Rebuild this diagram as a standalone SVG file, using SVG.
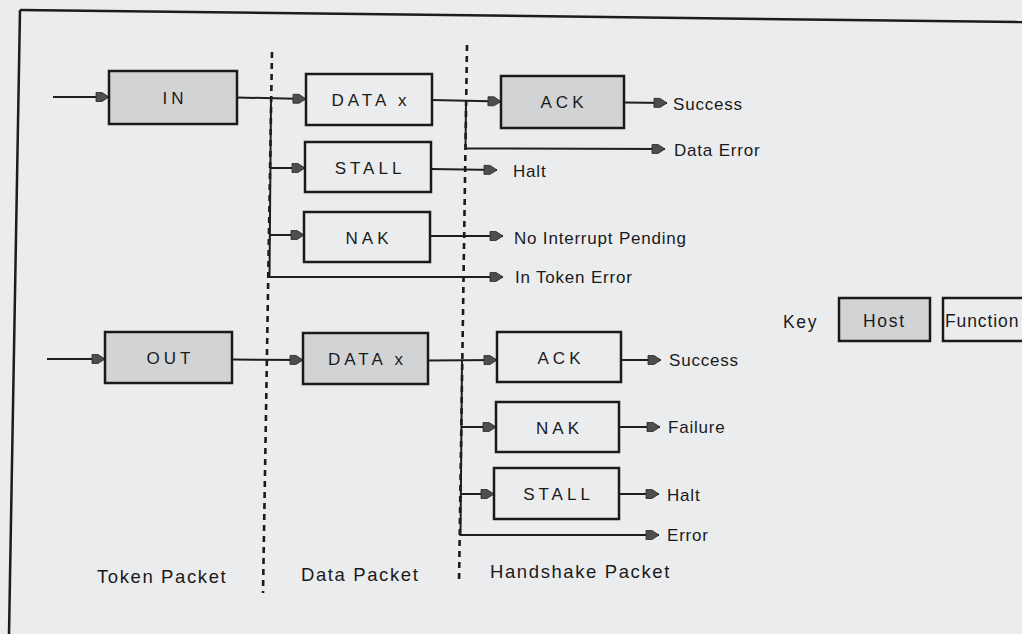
<svg xmlns="http://www.w3.org/2000/svg" width="1022" height="634" viewBox="0 0 1022 634">
  <style>
    .bg { fill: #ebecee; }
    .frame { stroke: #1c1c1c; stroke-width: 2.5; fill: none; }
    .box { fill: none; stroke: #1a1a1a; stroke-width: 2.5; }
    .host { fill: #d2d3d4; stroke: #1a1a1a; stroke-width: 2.5; }
    .blabel { font-family: "Liberation Sans", Arial, sans-serif; font-size: 17px; letter-spacing: 4px; fill: #1a1a1a; text-anchor: middle; }
    .out { font-family: "Liberation Sans", Arial, sans-serif; font-size: 17px; letter-spacing: 0.8px; fill: #1a1a1a; }
    .phase { font-family: "Liberation Sans", Arial, sans-serif; font-size: 18.5px; letter-spacing: 1.6px; fill: #1a1a1a; }
    .keyt { font-family: "Liberation Sans", Arial, sans-serif; font-size: 17.5px; letter-spacing: 1.7px; fill: #1a1a1a; }
    .wire { fill: none; stroke: #1e1e1e; stroke-width: 2; marker-end: url(#head); }
    .divider { stroke: #1a1a1a; stroke-width: 2.6; stroke-dasharray: 6 5; fill: none; }
  </style>
  <defs>
    <marker id="head" markerUnits="userSpaceOnUse" markerWidth="16" markerHeight="12" refX="14" refY="6" orient="auto">
      <path d="M1,1.5 L7,1.5 L14,6 L7,10.5 L1,10.5 Z" fill="#4e4e4e" stroke="#262626" stroke-width="0.8"/>
    </marker>
  </defs>

  <rect class="bg" x="0" y="0" width="1022" height="634"/>

  <!-- outer frame -->
  <g id="frame">
    <line class="frame" x1="20" y1="10" x2="1022" y2="22"/>
    <line class="frame" x1="20" y1="10" x2="9" y2="634"/>
  </g>

  <!-- phase dividers -->
  <g id="dividers">
    <line class="divider" x1="272" y1="52" x2="263" y2="593"/>
    <line class="divider" x1="467" y1="45" x2="459" y2="583"/>
  </g>

  <!-- connectors -->
  <g id="connectors">
    <!-- IN transaction -->
    <path class="wire" d="M53,97 L109,97"/>
    <path class="wire" d="M237,97.5 L306,99"/>
    <path class="wire" d="M271,98 L269.5,277 L503,277"/>
    <path class="wire" d="M270.5,168 L305,168"/>
    <path class="wire" d="M270,235 L304,235"/>
    <path class="wire" d="M432,100 L501,101.5"/>
    <path class="wire" d="M466,100.5 L465.5,148.5 L665,149"/>
    <path class="wire" d="M624,102.5 L667,103"/>
    <path class="wire" d="M431,169 L497,170"/>
    <path class="wire" d="M430,236 L503,236"/>
    <!-- OUT transaction -->
    <path class="wire" d="M47,359 L105,359"/>
    <path class="wire" d="M232,359.5 L303,360"/>
    <path class="wire" d="M428,360.5 L497,360"/>
    <path class="wire" d="M462,360.5 L460.5,535 L659,535"/>
    <path class="wire" d="M461.5,427 L496,427"/>
    <path class="wire" d="M461,494 L494,494"/>
    <path class="wire" d="M621,360 L661,360"/>
    <path class="wire" d="M619,427 L660,427"/>
    <path class="wire" d="M619,494 L659,494"/>
  </g>

  <!-- IN transaction nodes -->
  <g id="in-token">
    <rect class="host" x="109" y="71" width="128" height="53"/>
    <text class="blabel" x="175" y="103.5">IN</text>
  </g>
  <g id="in-data">
    <rect class="box" x="306" y="74" width="126" height="51"/>
    <text class="blabel" x="371" y="105.5">DATA x</text>
  </g>
  <g id="in-stall">
    <rect class="box" x="305" y="142" width="126" height="50"/>
    <text class="blabel" x="370" y="173.5">STALL</text>
  </g>
  <g id="in-nak">
    <rect class="box" x="304" y="212" width="126" height="50"/>
    <text class="blabel" x="369" y="243.5">NAK</text>
  </g>
  <g id="in-ack">
    <rect class="host" x="501" y="76" width="123" height="52"/>
    <text class="blabel" x="564" y="108">ACK</text>
  </g>

  <!-- OUT transaction nodes -->
  <g id="out-token">
    <rect class="host" x="105" y="332" width="127" height="51"/>
    <text class="blabel" x="170.5" y="364">OUT</text>
  </g>
  <g id="out-data">
    <rect class="host" x="303" y="333" width="125" height="51"/>
    <text class="blabel" x="367.5" y="365">DATA x</text>
  </g>
  <g id="out-ack">
    <rect class="box" x="497" y="332" width="124" height="50"/>
    <text class="blabel" x="561" y="364">ACK</text>
  </g>
  <g id="out-nak">
    <rect class="box" x="496" y="402" width="123" height="50"/>
    <text class="blabel" x="559.5" y="433.5">NAK</text>
  </g>
  <g id="out-stall">
    <rect class="box" x="494" y="468" width="125" height="51"/>
    <text class="blabel" x="558.5" y="500">STALL</text>
  </g>

  <!-- outcomes -->
  <g id="outcomes">
    <text class="out" x="673" y="109.5">Success</text>
    <text class="out" x="674" y="156">Data Error</text>
    <text class="out" x="513" y="176.5">Halt</text>
    <text class="out" x="514" y="244">No Interrupt Pending</text>
    <text class="out" x="515" y="283">In Token Error</text>
    <text class="out" x="669" y="366">Success</text>
    <text class="out" x="668" y="433">Failure</text>
    <text class="out" x="667" y="501">Halt</text>
    <text class="out" x="667" y="541">Error</text>
  </g>

  <!-- phase captions -->
  <g id="phases">
    <text class="phase" x="97" y="583">Token Packet</text>
    <text class="phase" x="301" y="581">Data Packet</text>
    <text class="phase" x="490" y="578">Handshake Packet</text>
  </g>

  <!-- key -->
  <g id="key">
    <text class="keyt" x="783" y="328">Key</text>
    <rect class="host" x="839" y="298" width="91" height="43"/>
    <text class="keyt" x="863" y="327">Host</text>
    <rect class="box" x="943" y="298" width="100" height="43"/>
    <text class="keyt" x="945" y="327" style="letter-spacing:0.9px">Function</text>
  </g>
</svg>
